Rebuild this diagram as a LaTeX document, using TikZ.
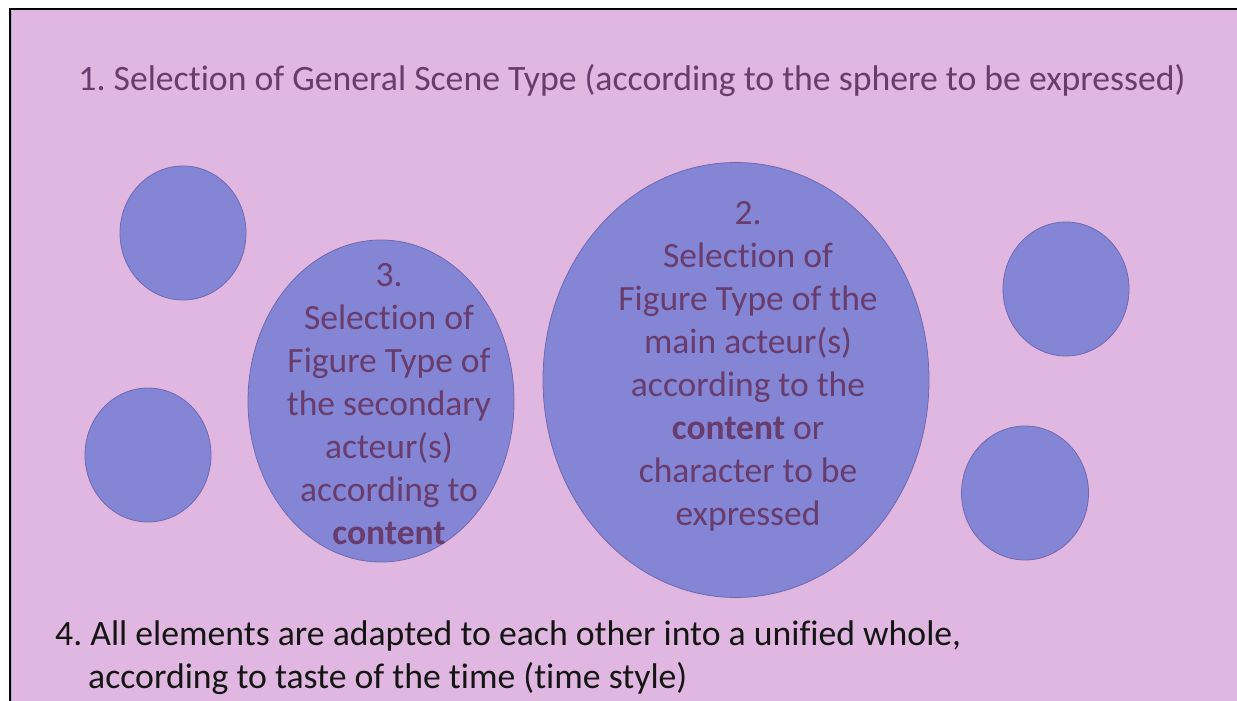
\documentclass[tikz,border=0pt]{standalone}
\usepackage{fontspec}
\setmainfont[Ligatures=NoCommon]{Carlito}
\usetikzlibrary{shapes.geometric}
\definecolor{bgpink}{HTML}{E0B7E0}
\definecolor{blobfill}{HTML}{8585D6}
\definecolor{blobedge}{HTML}{6F68B0}
\definecolor{txtpurple}{HTML}{683C6C}
\definecolor{txtdark}{HTML}{151515}
\tikzset{
  blob/.style={ellipse, draw=blobedge, fill=blobfill, line width=0.8pt, inner sep=0pt},
  inlabel/.style={align=center, text=txtpurple, font=\fontsize{35.5}{43}\selectfont, inner sep=0pt},
}
\frenchspacing
\begin{document}
\begin{tikzpicture}[x=1pt,y=-1pt]
\useasboundingbox (0,0) rectangle (1237,701);
\fill[white] (0,0) rectangle (1237,701);
\fill[bgpink] (10,10) rectangle (1237,701);
\draw[black, line width=2pt] (9.5,701) -- (9.5,9.5) -- (1237,9.5);
\draw[blobedge!60!white, line width=1pt] (11.5,11) -- (11.5,701);
% title
\node[text=txtpurple, font=\fontsize{35.7}{43}\selectfont, inner sep=0pt] (title) at (632,81) {1. Selection of General Scene Type (according to the sphere to be expressed)};
% small circles
\node[blob, minimum width=126pt, minimum height=134pt] (c1) at (183,233) {};
\node[blob, minimum width=126pt, minimum height=134pt] (c2) at (148,455) {};
\node[blob, minimum width=126pt, minimum height=134pt] (c5) at (1066,289) {};
\node[blob, minimum width=127pt, minimum height=134pt] (c6) at (1025,493) {};
% ellipses
\node[blob, minimum width=266pt, minimum height=322pt] (c3) at (381,401) {};
\node[blob, minimum width=386pt, minimum height=435pt] (c4) at (736,380) {};
\node[inlabel] (t3) at (389,404) {3.\\Selection of\\Figure Type of\\the secondary\\acteur(s)\\according to\\\textbf{content}};
\node[inlabel] (t4) at (748,366) {2.\\Selection of\\Figure Type of the\\main acteur(s)\\according to the\\\textbf{content} or\\character to be\\expressed};
% bottom text
\node[anchor=north west, align=left, text=txtdark, font=\fontsize{35.7}{43}\selectfont, inner sep=0pt] (t5) at (55,621) {4. All elements are adapted to each other into a unified whole,\\\hspace*{33pt}according to taste of the time (time style)};
\end{tikzpicture}
\end{document}
